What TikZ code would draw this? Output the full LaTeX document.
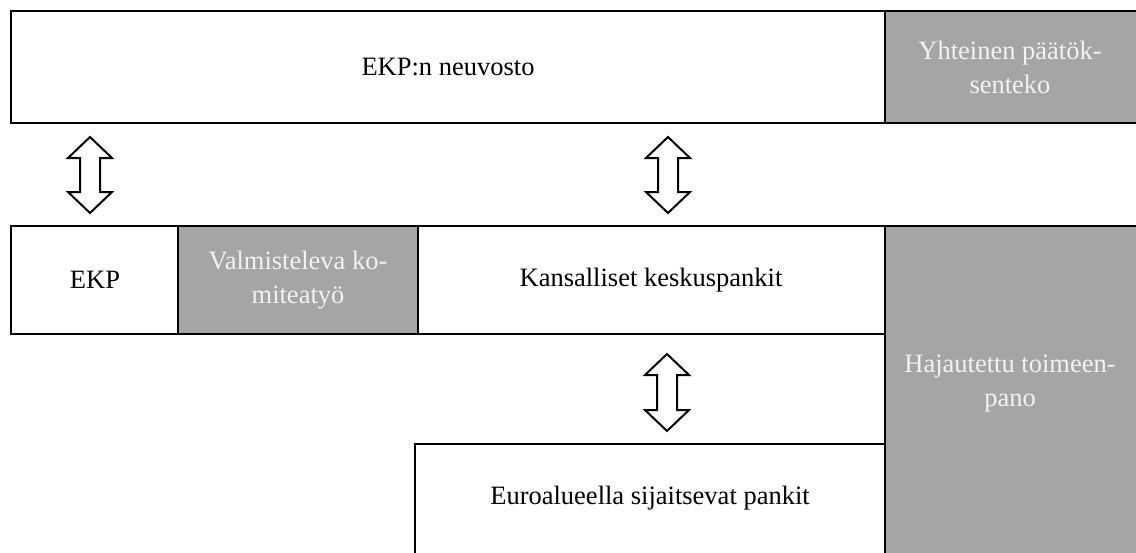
\documentclass[tikz,border=0pt]{standalone}
\usepackage{fontspec}
\setmainfont{Liberation Serif}
\definecolor{boxgray}{HTML}{A5A5A5}
\definecolor{lighttext}{HTML}{F2F2F2}
\begin{document}
\begin{tikzpicture}[x=1pt,y=-1pt,
  box/.style={draw=black,line width=2pt,fill=white},
  graybox/.style={draw=black,line width=2pt,fill=boxgray},
  lbl/.style={font=\fontsize{26.5}{34}\selectfont,align=center,text=black,inner sep=0pt},
  glbl/.style={font=\fontsize{26.5}{34}\selectfont,align=center,text=lighttext,inner sep=0pt},
  blockarrow/.style={draw=black,line width=2pt,fill=white,line join=miter}]
\useasboundingbox (0,0) rectangle (1136,552);
% boxes
\draw[box] (11,11) rectangle (885,123);
\draw[graybox] (885,11) rectangle (1140,123);
\draw[box] (11,226) rectangle (178,334);
\draw[graybox] (178,226) rectangle (418,334);
\draw[box] (418,226) rectangle (885,334);
\draw[graybox] (885,226) rectangle (1140,556);
\draw[box] (415,444) rectangle (885,556);
% labels
\node[lbl] (council) at (448,67) {EKP:n neuvosto};
\node[glbl] (common) at (1010,67) {Yhteinen päätök-\\senteko};
\node[lbl] (ecb) at (95,280) {EKP};
\node[glbl] (prep) at (298,280) {Valmisteleva ko-\\miteatyö};
\node[lbl] (ncb) at (651,280) {Kansalliset keskuspankit};
\node[glbl] (decent) at (1010,384) {Hajautettu toimeen-\\pano};
\node[lbl] (euro) at (650,498) {Euroalueella sijaitsevat pankit};
% block arrows
\newcommand{\dblarrow}[3]{%
  \draw[blockarrow] (#1,#2) -- (#1+22,#2+21) -- (#1+10,#2+21) -- (#1+10,#3-21)
    -- (#1+22,#3-21) -- (#1,#3) -- (#1-22,#3-21) -- (#1-10,#3-21)
    -- (#1-10,#2+21) -- (#1-22,#2+21) -- cycle;}
\dblarrow{90}{137}{213}
\dblarrow{668}{137}{213}
\dblarrow{667}{354}{431}
\end{tikzpicture}
\end{document}
